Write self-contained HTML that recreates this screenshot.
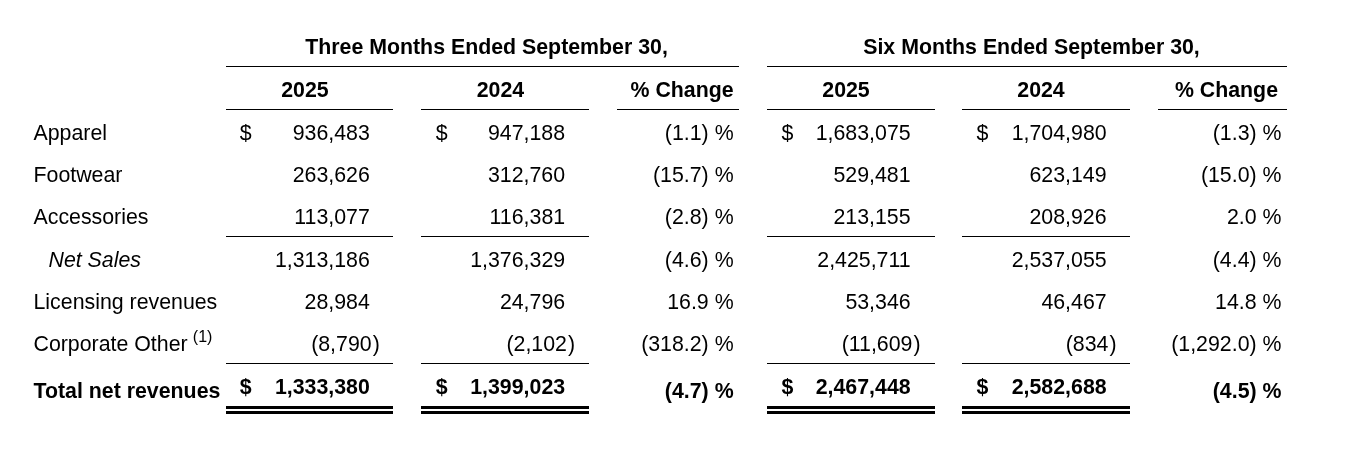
<!DOCTYPE html>
<html><head><meta charset="utf-8">
<style>
html,body{margin:0;padding:0;background:#fff;}
body{will-change:transform;width:1366px;height:462px;position:relative;overflow:hidden;font-family:"Liberation Sans",sans-serif;font-size:21.333px;color:#000;}
div{position:absolute;line-height:24px;white-space:nowrap;}
.b{font-weight:bold;}
.i{font-style:italic;}
.ln{background:#000;}
.sup{font-size:16px;position:relative;top:-8.9px;margin-left:-0.7px;}
</style></head><body>
<div class="b" style="top:35.00px;left:186.50px;width:600px;text-align:center;">Three Months Ended September 30,</div>
<div class="b" style="top:35.00px;left:731.50px;width:600px;text-align:center;">Six Months Ended September 30,</div>
<div class="ln" style="left:226px;top:66px;width:513px;height:1px"></div>
<div class="ln" style="left:767px;top:66px;width:520px;height:1px"></div>
<div class="b" style="top:78.00px;left:4.90px;width:600px;text-align:center;">2025</div>
<div class="ln" style="left:226px;top:109px;width:167px;height:1px"></div>
<div class="b" style="top:78.00px;left:200.40px;width:600px;text-align:center;">2024</div>
<div class="ln" style="left:421px;top:109px;width:168px;height:1px"></div>
<div class="b" style="top:78.00px;right:632.40px;">% Change</div>
<div class="ln" style="left:617px;top:109px;width:122px;height:1px"></div>
<div class="b" style="top:78.00px;left:546.00px;width:600px;text-align:center;">2025</div>
<div class="ln" style="left:767px;top:109px;width:168px;height:1px"></div>
<div class="b" style="top:78.00px;left:741.00px;width:600px;text-align:center;">2024</div>
<div class="ln" style="left:962px;top:109px;width:168px;height:1px"></div>
<div class="b" style="top:78.00px;right:88.00px;">% Change</div>
<div class="ln" style="left:1158px;top:109px;width:129px;height:1px"></div>
<div style="top:120.80px;left:33.50px;">Apparel</div>
<div style="top:120.80px;left:239.80px;">$</div>
<div style="top:120.80px;right:996.20px;">936,483</div>
<div style="top:120.80px;left:435.80px;">$</div>
<div style="top:120.80px;right:800.90px;">947,188</div>
<div style="top:120.80px;right:632.40px;">(1.1) %</div>
<div style="top:120.80px;left:781.40px;">$</div>
<div style="top:120.80px;right:455.40px;">1,683,075</div>
<div style="top:120.80px;left:976.50px;">$</div>
<div style="top:120.80px;right:259.40px;">1,704,980</div>
<div style="top:120.80px;right:84.50px;">(1.3) %</div>
<div style="top:163.10px;left:33.50px;">Footwear</div>
<div style="top:163.10px;right:996.20px;">263,626</div>
<div style="top:163.10px;right:800.90px;">312,760</div>
<div style="top:163.10px;right:632.40px;">(15.7) %</div>
<div style="top:163.10px;right:455.40px;">529,481</div>
<div style="top:163.10px;right:259.40px;">623,149</div>
<div style="top:163.10px;right:84.50px;">(15.0) %</div>
<div style="top:205.40px;left:33.50px;">Accessories</div>
<div style="top:205.40px;right:996.20px;">113,077</div>
<div style="top:205.40px;right:800.90px;">116,381</div>
<div style="top:205.40px;right:632.40px;">(2.8) %</div>
<div style="top:205.40px;right:455.40px;">213,155</div>
<div style="top:205.40px;right:259.40px;">208,926</div>
<div style="top:205.40px;right:84.50px;">2.0 %</div>
<div class="i" style="top:247.70px;left:48.50px;">Net Sales</div>
<div style="top:247.70px;right:996.20px;">1,313,186</div>
<div style="top:247.70px;right:800.90px;">1,376,329</div>
<div style="top:247.70px;right:632.40px;">(4.6) %</div>
<div style="top:247.70px;right:455.40px;">2,425,711</div>
<div style="top:247.70px;right:259.40px;">2,537,055</div>
<div style="top:247.70px;right:84.50px;">(4.4) %</div>
<div style="top:290.00px;left:33.50px;">Licensing revenues</div>
<div style="top:290.00px;right:996.20px;">28,984</div>
<div style="top:290.00px;right:800.90px;">24,796</div>
<div style="top:290.00px;right:632.40px;">16.9 %</div>
<div style="top:290.00px;right:455.40px;">53,346</div>
<div style="top:290.00px;right:259.40px;">46,467</div>
<div style="top:290.00px;right:84.50px;">14.8 %</div>
<div style="top:332.30px;left:33.50px;">Corporate Other <span class="sup">(1)</span></div>
<div style="top:332.30px;right:994.40px;">(8,790</div>
<div style="top:332.30px;left:372.70px;">)</div>
<div style="top:332.30px;right:799.10px;">(2,102</div>
<div style="top:332.30px;left:568.00px;">)</div>
<div style="top:332.30px;right:632.40px;">(318.2) %</div>
<div style="top:332.30px;right:453.60px;">(11,609</div>
<div style="top:332.30px;left:913.50px;">)</div>
<div style="top:332.30px;right:257.60px;">(834</div>
<div style="top:332.30px;left:1109.50px;">)</div>
<div style="top:332.30px;right:84.50px;">(1,292.0) %</div>
<div class="b" style="top:379.00px;left:33.50px;">Total net revenues</div>
<div class="b" style="top:375.00px;left:239.80px;">$</div>
<div class="b" style="top:375.00px;right:996.20px;">1,333,380</div>
<div class="b" style="top:375.00px;left:435.80px;">$</div>
<div class="b" style="top:375.00px;right:800.90px;">1,399,023</div>
<div class="b" style="top:379.00px;right:632.40px;">(4.7) %</div>
<div class="b" style="top:375.00px;left:781.40px;">$</div>
<div class="b" style="top:375.00px;right:455.40px;">2,467,448</div>
<div class="b" style="top:375.00px;left:976.50px;">$</div>
<div class="b" style="top:375.00px;right:259.40px;">2,582,688</div>
<div class="b" style="top:379.00px;right:84.50px;">(4.5) %</div>
<div class="ln" style="left:226px;top:236px;width:167px;height:1px"></div>
<div class="ln" style="left:226px;top:363px;width:167px;height:1px"></div>
<div class="ln" style="left:226px;top:406px;width:167px;height:3px"></div>
<div class="ln" style="left:226px;top:411px;width:167px;height:3px"></div>
<div class="ln" style="left:421px;top:236px;width:168px;height:1px"></div>
<div class="ln" style="left:421px;top:363px;width:168px;height:1px"></div>
<div class="ln" style="left:421px;top:406px;width:168px;height:3px"></div>
<div class="ln" style="left:421px;top:411px;width:168px;height:3px"></div>
<div class="ln" style="left:767px;top:236px;width:168px;height:1px"></div>
<div class="ln" style="left:767px;top:363px;width:168px;height:1px"></div>
<div class="ln" style="left:767px;top:406px;width:168px;height:3px"></div>
<div class="ln" style="left:767px;top:411px;width:168px;height:3px"></div>
<div class="ln" style="left:962px;top:236px;width:168px;height:1px"></div>
<div class="ln" style="left:962px;top:363px;width:168px;height:1px"></div>
<div class="ln" style="left:962px;top:406px;width:168px;height:3px"></div>
<div class="ln" style="left:962px;top:411px;width:168px;height:3px"></div>
</body></html>
